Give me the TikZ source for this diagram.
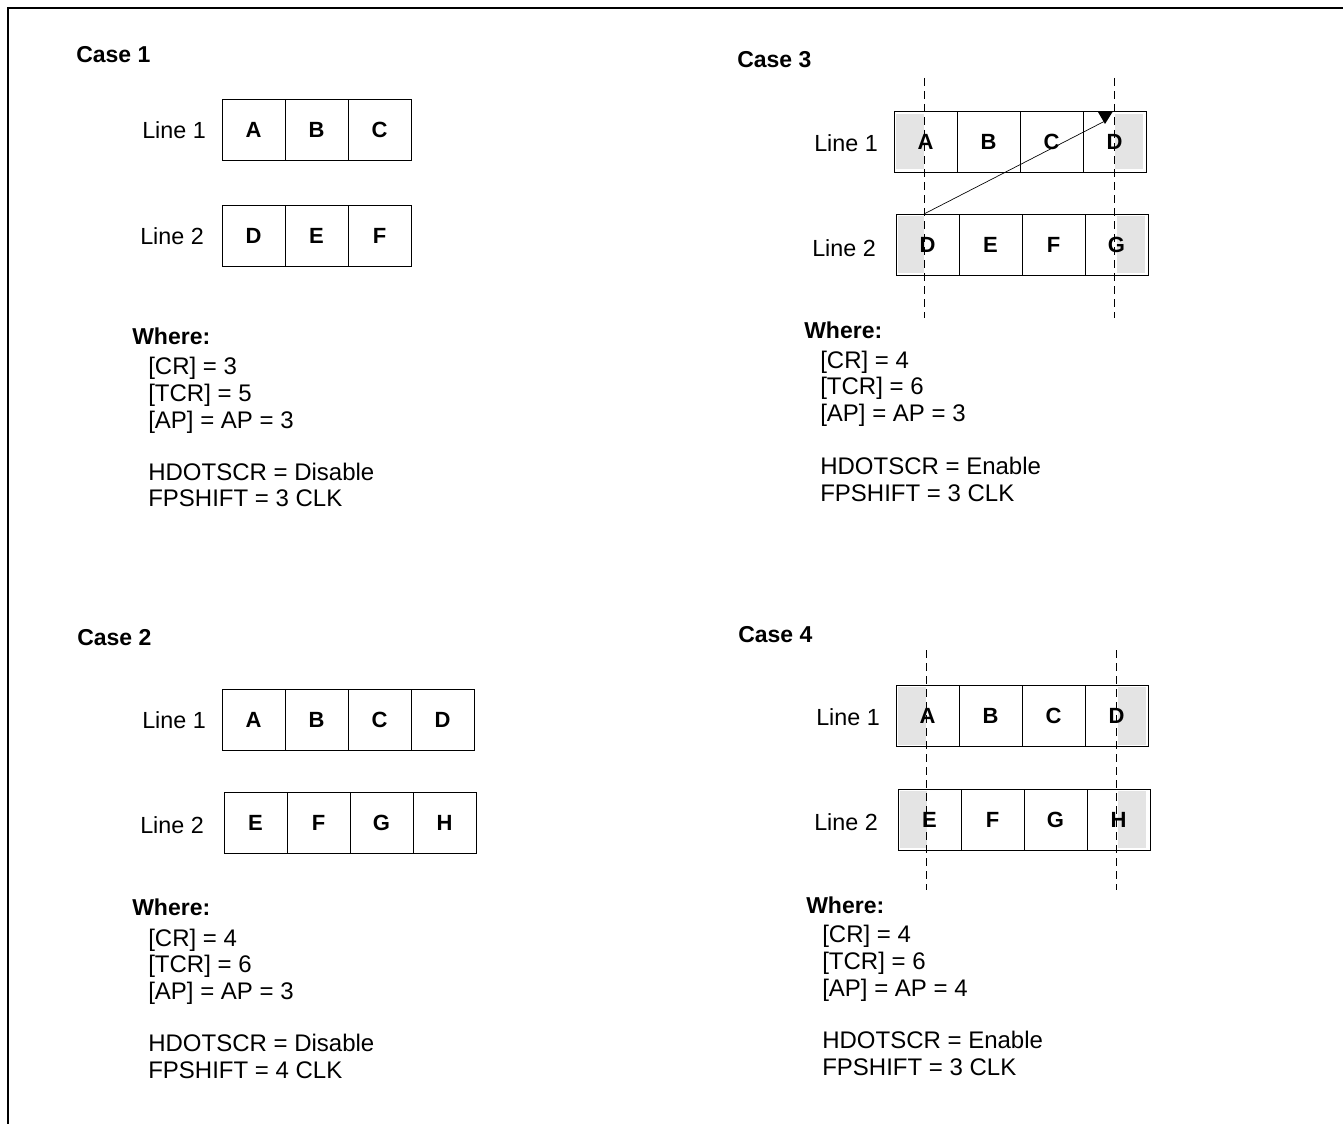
\documentclass[tikz,border=0pt]{standalone}
\usepackage{fontspec}
\setmainfont{Liberation Sans}
\definecolor{cellgray}{HTML}{E4E4E4}
\newcommand{\cellrow}[4]{%
  \foreach \L [count=\i] in {#4} {\node[cellbox] (#1\i) at ({#2+63*(\i-0.5)},#3) {\L};}%
}
\begin{document}
\begin{tikzpicture}[x=0.75pt,y=-0.75pt,
  cellbox/.style={draw,line width=0.6pt,minimum width=47.25pt,minimum height=45.75pt,inner sep=0pt,font=\fontsize{16.5}{19}\selectfont\bfseries},
  casetitle/.style={anchor=base west,inner sep=0pt,font=\fontsize{17.25}{20}\selectfont\bfseries},
  linelbl/.style={anchor=base west,inner sep=0pt,font=\fontsize{17.5}{20}\selectfont},
  txt/.style={anchor=base west,inner sep=0pt,font=\fontsize{18}{21}\selectfont},
  guide/.style={line width=0.6pt,dash pattern=on 6pt off 3.75pt},
  frame/.style={line width=1.1pt}]
\useasboundingbox (0,0) rectangle (1343,1124);
% frame
\coordinate (fr) at (1343,8);
\coordinate (fc) at (8,8);
\coordinate (fb) at (8,1124);
\draw[frame] (fr) -- (fc) -- (fb);

% ---------- Case 1 ----------
\node[casetitle] (t1) at (76,63) {Case 1};
\node[linelbl] (c1l1) at (142,138.5) {Line 1};
\node[linelbl] (c1l2) at (140,244) {Line 2};
\cellrow{c1a}{222}{129.5}{A,B,C}
\cellrow{c1b}{222}{235.5}{D,E,F}
\node[casetitle] (w1) at (132,344) {Where:};
\node[txt] (w1a) at (148,374.5) {[CR] = 3};
\node[txt] (w1b) at (148,401.5) {[TCR] = 5};
\node[txt] (w1c) at (148,428.5) {[AP] = AP = 3};
\node[txt] (w1d) at (148,480.5) {HDOTSCR = Disable};
\node[txt] (w1e) at (148,506.5) {FPSHIFT = 3 CLK};

% ---------- Case 2 ----------
\node[casetitle] (t2) at (77,645) {Case 2};
\node[linelbl] (c2l1) at (142,728.5) {Line 1};
\node[linelbl] (c2l2) at (140,833.5) {Line 2};
\cellrow{c2a}{222}{719.5}{A,B,C,D}
\cellrow{c2b}{224}{823}{E,F,G,H}
\node[casetitle] (w2) at (132,915) {Where:};
\node[txt] (w2a) at (148,946.5) {[CR] = 4};
\node[txt] (w2b) at (148,972.5) {[TCR] = 6};
\node[txt] (w2c) at (148,999.5) {[AP] = AP = 3};
\node[txt] (w2d) at (148,1051.5) {HDOTSCR = Disable};
\node[txt] (w2e) at (148,1078.5) {FPSHIFT = 4 CLK};

% ---------- Case 3 ----------
\node[casetitle] (t3) at (737,68) {Case 3};
\node[linelbl] (c3l1) at (814,151.5) {Line 1};
\node[linelbl] (c3l2) at (812,256.5) {Line 2};
\fill[cellgray] (896,114) rectangle (924,169);
\fill[cellgray] (1115,114) rectangle (1143,169);
\fill[cellgray] (898,216) rectangle (924,273);
\fill[cellgray] (1117,216) rectangle (1145,273);
\cellrow{c3a}{894}{141.5}{A,B,C,D}
\cellrow{c3b}{896}{244.5}{D,E,F,G}
\coordinate (g3at) at (924,78);
\coordinate (g3ab) at (924,318);
\coordinate (g3bt) at (1114,78);
\coordinate (g3bb) at (1114,318);
\draw[guide] (g3at) -- (g3ab);
\draw[guide] (g3bt) -- (g3bb);
\coordinate (arS) at (924,214);
\coordinate (arE) at (1105,121);
\draw[line width=0.5pt] (arS) -- (arE);
\fill (1098,112) -- (1112.5,112) -- (1105,124) -- cycle;
\node[casetitle] (w3) at (804,338) {Where:};
\node[txt] (w3a) at (820,368.5) {[CR] = 4};
\node[txt] (w3b) at (820,394.5) {[TCR] = 6};
\node[txt] (w3c) at (820,421.5) {[AP] = AP = 3};
\node[txt] (w3d) at (820,474.5) {HDOTSCR = Enable};
\node[txt] (w3e) at (820,501.5) {FPSHIFT = 3 CLK};

% ---------- Case 4 ----------
\node[casetitle] (t4) at (738,642) {Case 4};
\node[linelbl] (c4l1) at (816,725.5) {Line 1};
\node[linelbl] (c4l2) at (814,830.5) {Line 2};
\fill[cellgray] (898,687) rectangle (926,745);
\fill[cellgray] (1118,687) rectangle (1146,745);
\fill[cellgray] (900,791) rectangle (927,848);
\fill[cellgray] (1118,791) rectangle (1146,848);
\cellrow{c4a}{896}{716}{A,B,C,D}
\cellrow{c4b}{898}{819.5}{E,F,G,H}
\coordinate (g4at) at (926,650);
\coordinate (g4ab) at (926,890);
\coordinate (g4bt) at (1116,650);
\coordinate (g4bb) at (1116,890);
\draw[guide] (g4at) -- (g4ab);
\draw[guide] (g4bt) -- (g4bb);
\node[casetitle] (w4) at (806,913) {Where:};
\node[txt] (w4a) at (822,942.5) {[CR] = 4};
\node[txt] (w4b) at (822,969.5) {[TCR] = 6};
\node[txt] (w4c) at (822,996.5) {[AP] = AP = 4};
\node[txt] (w4d) at (822,1048.5) {HDOTSCR = Enable};
\node[txt] (w4e) at (822,1075.5) {FPSHIFT = 3 CLK};
\end{tikzpicture}
\end{document}
